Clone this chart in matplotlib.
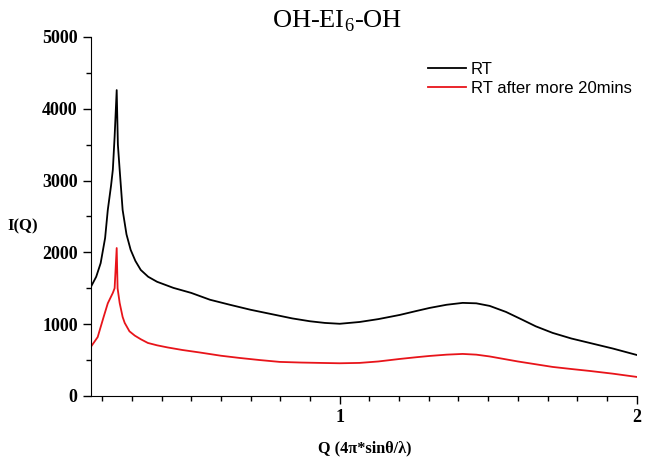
## SAXS curves, OH-EI6-OH
import matplotlib
matplotlib.use("Agg")
import matplotlib.pyplot as plt
from matplotlib.ticker import MultipleLocator

plt.rcParams['font.family'] = ['Liberation Serif', 'DejaVu Serif']
plt.rcParams['mathtext.fontset'] = 'custom'
plt.rcParams['mathtext.rm'] = 'Liberation Serif'

# values
q_rt = [0.162, 0.18, 0.195, 0.21, 0.219, 0.23, 0.236, 0.242, 0.249, 0.253, 0.259, 0.269,
        0.282, 0.296, 0.312, 0.330, 0.355, 0.385, 0.44, 0.50, 0.563, 0.63, 0.70, 0.77,
        0.84, 0.90, 0.95, 1.0, 1.067, 1.13, 1.202, 1.26, 1.303, 1.36, 1.414, 1.46,
        1.505, 1.56, 1.616, 1.66, 1.717, 1.78, 1.842, 1.92, 2.0]
i_rt = [1518, 1660, 1850, 2200, 2590, 2930, 3150, 3610, 4260, 3500, 3150, 2590,
        2250, 2035, 1880, 1755, 1660, 1590, 1505, 1435, 1340, 1270, 1200, 1140,
        1080, 1040, 1017, 1005, 1030, 1070, 1128, 1185, 1226, 1270, 1296, 1290,
        1254, 1170, 1059, 970, 878, 800, 738, 660, 571]

q_rt20 = [0.162, 0.185, 0.205, 0.219, 0.236, 0.242, 0.249, 0.252, 0.259, 0.269, 0.276, 0.292,
          0.310, 0.33, 0.354, 0.385, 0.421, 0.47, 0.529, 0.6, 0.663, 0.73, 0.798, 0.87,
          0.933, 1.0, 1.067, 1.13, 1.202, 1.26, 1.303, 1.36, 1.414, 1.46, 1.505, 1.6,
          1.717, 1.78, 1.842, 1.92, 2.0]
i_rt20 = [683, 820, 1100, 1290, 1435, 1500, 2060, 1500, 1295, 1100, 1017, 900,
          840, 790, 738, 705, 675, 640, 605, 560, 529, 500, 474, 465,
          460, 455, 460, 480, 515, 540, 557, 575, 585, 575, 550, 480,
          404, 375, 348, 310, 265]

fig = plt.figure(figsize=(6.49, 4.62), dpi=100)
ax = fig.add_axes([0.140, 0.143, 0.841, 0.777])

ax.plot(q_rt, i_rt, color='black', lw=1.3, label='RT')
ax.plot(q_rt20, i_rt20, color='#e8141a', lw=1.3, label='RT after more 20mins')

ax.set_xlim(0.162, 2.0)
ax.set_ylim(0, 5000)
ax.spines['top'].set_visible(False)
ax.spines['right'].set_visible(False)
ax.xaxis.set_major_locator(MultipleLocator(1))
ax.xaxis.set_minor_locator(MultipleLocator(0.1))
ax.yaxis.set_major_locator(MultipleLocator(1000))
ax.yaxis.set_minor_locator(MultipleLocator(500))
ax.tick_params(which='major', direction='out', length=6, width=1)
ax.tick_params(which='minor', direction='out', length=3.5, width=1)
for lab in ax.get_xticklabels() + ax.get_yticklabels():
    lab.set_fontweight('bold')
    lab.set_fontsize(13)

ax.set_xlabel('Q (4π*sinθ/λ)', fontsize=11.7, fontweight='bold')
ax.xaxis.set_label_coords(0.502, -0.125)
ax.set_ylabel('I(Q)', fontsize=12, fontweight='bold', rotation=0, ha='center', va='center')
ax.yaxis.set_label_coords(-0.125, 0.471)

fig.text(0.52, 0.955, r'OH-EI$_{\mathrm{6}}$-OH', ha='center', va='center', fontsize=19)

ax.legend(loc='upper left', bbox_to_anchor=(0.602, 0.953), frameon=False,
          prop={'family': 'Liberation Sans', 'size': 12}, borderpad=0,
          handlelength=2.3, handletextpad=0.3, labelspacing=0.25)

fig.savefig('out.png', dpi=100)
